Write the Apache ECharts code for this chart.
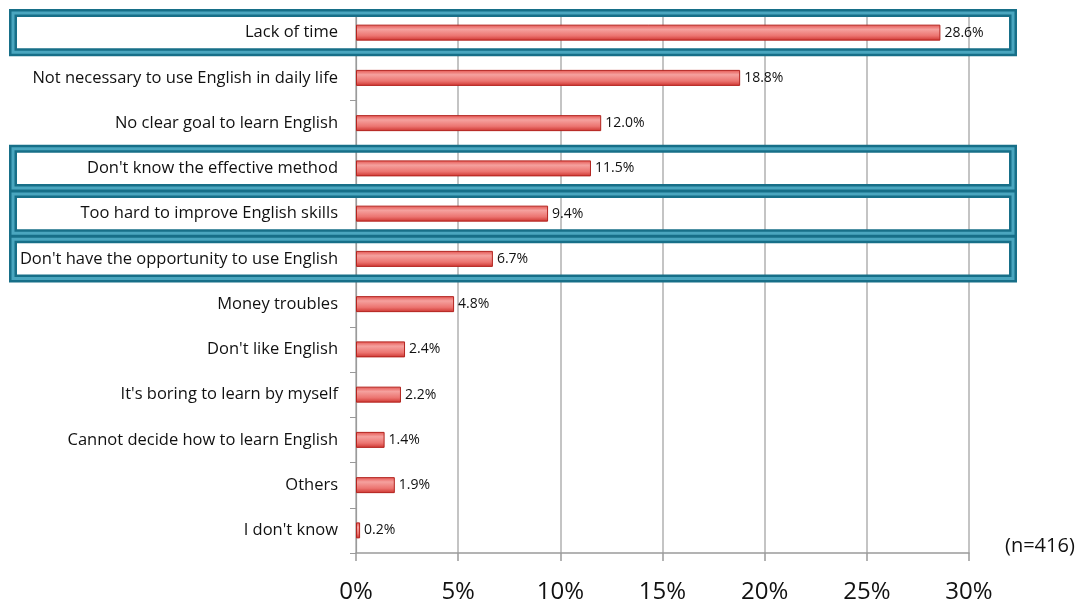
<!DOCTYPE html>
<html>
<head>
<meta charset="utf-8">
<style>
  html, body { margin: 0; padding: 0; background: #ffffff; }
  #chart { width: 1092px; height: 604px; }
</style>
<script src="https://cdn.jsdelivr.net/npm/echarts@6/dist/echarts.min.js"></script>
</head>
<body>
<div id="chart"></div>
<script>
// Reasons for not studying English (share of respondents, %)
const categories = [
  "Lack of time",
  "Not necessary to use English in daily life",
  "No clear goal to learn English",
  "Don't know the effective method",
  "Too hard to improve English skills",
  "Don't have the opportunity to use English",
  "Money troubles",
  "Don't like English",
  "It's boring to learn by myself",
  "Cannot decide how to learn English",
  "Others",
  "I don't know"
];
const shares = [28.6, 18.8, 12.0, 11.5, 9.4, 6.7, 4.8, 2.4, 2.2, 1.4, 1.9, 0.2];
const xTicks = [0, 5, 10, 15, 20, 25, 30];
// Reasons outlined with a frame
const framed = ["Lack of time", "Don't know the effective method",
                "Too hard to improve English skills", "Don't have the opportunity to use English"];
const sampleNote = "(n=416)";

const FONT = "'Open Sans', 'Noto Sans', sans-serif";
const chart = echarts.init(document.getElementById('chart'), null, { renderer: 'canvas' });

const barFill = new echarts.graphic.LinearGradient(0, 0, 0, 1, [
  { offset: 0, color: '#e4524e' },
  { offset: 0.3, color: '#f5a19e' },
  { offset: 0.7, color: '#ec7470' },
  { offset: 1, color: '#cc332e' }
]);

chart.setOption({
  animation: false,
  grid: { left: 356, right: 123, top: 10, bottom: 51, containLabel: false },
  xAxis: {
    type: 'value',
    min: xTicks[0],
    max: xTicks[xTicks.length - 1],
    interval: xTicks[1] - xTicks[0],
    axisLine: { show: true, lineStyle: { color: '#9a9a9a', width: 1.5 } },
    axisTick: { show: true, length: 8, lineStyle: { color: '#9a9a9a', width: 1.5 } },
    splitLine: { show: true, lineStyle: { color: '#b0b0b0', width: 1.5 } },
    axisLabel: {
      formatter: v => v + '%',
      fontFamily: FONT, fontSize: 24, fontWeight: 500, color: '#111', margin: 27
    }
  },
  yAxis: {
    type: 'category',
    data: categories,
    inverse: true,
    axisLine: { show: true, lineStyle: { color: '#9a9a9a', width: 1.2 } },
    axisTick: { show: true, length: 6, lineStyle: { color: '#9a9a9a' } },
    axisLabel: { fontFamily: FONT, fontSize: 16.5, color: '#111', margin: 18 }
  },
  series: [{
    type: 'bar',
    data: shares,
    barWidth: 16,
    itemStyle: { color: barFill, borderColor: '#b3241f', borderWidth: 1 },
    label: {
      show: true, position: 'right', distance: 4,
      formatter: p => p.value.toFixed(1) + '%',
      fontFamily: FONT, fontSize: 14, color: '#111'
    }
  }]
});

// Frames around selected reasons, placed from the category axis
function drawFrames() {
  const c0 = chart.convertToPixel({ yAxisIndex: 0 }, categories[0]);
  const c1 = chart.convertToPixel({ yAxisIndex: 0 }, categories[1]);
  const band = Math.abs(c1 - c0);
  const left = 13;
  const right = chart.convertToPixel({ xAxisIndex: 0 }, xTicks[xTicks.length - 1]) + 44;
  const elements = [];
  framed.forEach((name) => {
    const cy = chart.convertToPixel({ yAxisIndex: 0 }, name);
    const shape = { x: left, y: cy - band / 2 + 3, width: right - left, height: band - 6 };
    elements.push({
      type: 'rect', z: 100, shape: shape, silent: true,
      style: { fill: null, stroke: '#176f88', lineWidth: 8 }
    });
    elements.push({
      type: 'rect', z: 101, shape: shape, silent: true,
      style: { fill: null, stroke: '#4aa6bf', lineWidth: 3 }
    });
  });
  elements.push({
    type: 'text', z: 102,
    x: right - 8, y: chart.convertToPixel({ yAxisIndex: 0 }, categories[categories.length - 1]) + 16,
    style: { text: sampleNote, fontFamily: FONT, fontSize: 20, fill: '#111', verticalAlign: 'middle' }
  });
  chart.setOption({ graphic: { elements: elements } });
}
drawFrames();
</script>
</body>
</html>
